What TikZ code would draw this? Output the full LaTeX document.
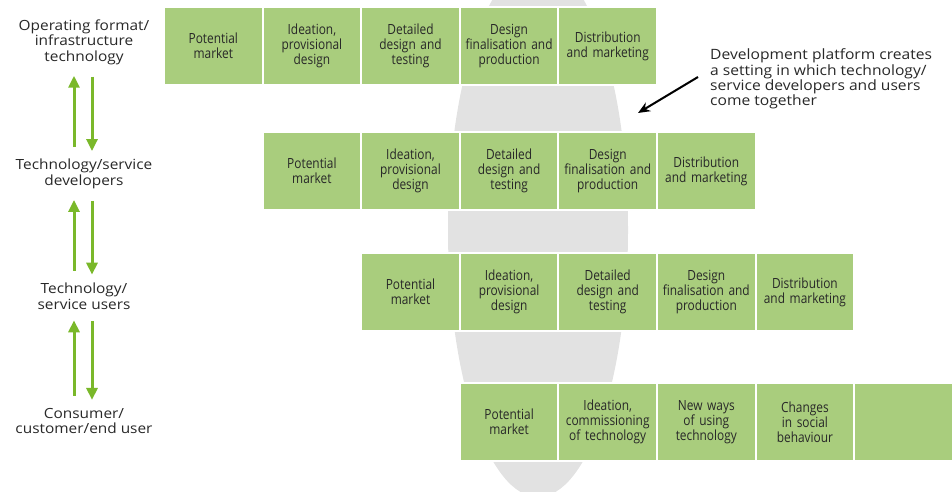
\documentclass[tikz,border=0pt]{standalone}
\usepackage{fontspec}
\setmainfont[FakeStretch=1.1]{Open Sans}
\newfontfamily\narrowfont[FakeStretch=0.85]{Open Sans}
\usetikzlibrary{positioning, arrows.meta}

\definecolor{stagegreen}{RGB}{169,205,125}
\definecolor{arrowgreen}{RGB}{122,184,42}
\definecolor{platformgrey}{RGB}{226,226,226}
\definecolor{textgrey}{RGB}{40,40,40}

\tikzset{
    stage/.style={rectangle, fill=stagegreen, draw=white, line width=2pt, outer sep=0pt,
        minimum width=98.6pt, minimum height=78pt, text width=94pt, inner sep=0pt,
        align=center, text=textgrey, font=\narrowfont\fontsize{14}{15}\selectfont},
    actor/.style={align=center, inner sep=0pt, text=textgrey, font=\fontsize{14}{15.5}\selectfont},
    updown/.style={draw=arrowgreen, line width=3pt, -{Triangle[length=12pt, width=11pt]}}
}

\begin{document}
\begin{tikzpicture}[x=1pt, y=-1pt, node distance=98.6pt, >=Latex]
            \useasboundingbox (0,0) rectangle (952,492);

            % development platform behind the rows
            \begin{scope}
                \clip (0,0) rectangle (952,492);
                \fill[platformgrey] (538,230) ellipse [x radius=90pt, y radius=267pt];
            \end{scope}

            % operating format / infrastructure technology
            \node[stage] (pm1) at (213.3,46) {Potential\\market};
            \node[stage, right of=pm1] (id1) {Ideation,\\provisional\\design};
            \node[stage, right of=id1] (dd1) {Detailed\\design and\\testing};
            \node[stage, right of=dd1] (df1) {Design\\finalisation and\\production};
            \node[stage, right of=df1] (dm1) {Distribution\\and marketing};

            % technology/service developers
            \node[stage] (pm2) at (311.9,171.2) {Potential\\market};
            \node[stage, right of=pm2] (id2) {Ideation,\\provisional\\design};
            \node[stage, right of=id2] (dd2) {Detailed\\design and\\testing};
            \node[stage, right of=dd2] (df2) {Design\\finalisation and\\production};
            \node[stage, right of=df2] (dm2) {Distribution\\and marketing};

            % technology/service users
            \node[stage] (pm3) at (410.5,292) {Potential\\market};
            \node[stage, right of=pm3] (id3) {Ideation,\\provisional\\design};
            \node[stage, right of=id3] (dd3) {Detailed\\design and\\testing};
            \node[stage, right of=dd3] (df3) {Design\\finalisation and\\production};
            \node[stage, right of=df3] (dm3) {Distribution\\and marketing};

            % consumer/customer/end user
            \node[stage] (pm4) at (509.1,421.8) {Potential\\market};
            \node[stage, right of=pm4] (ic4) {Ideation,\\commissioning\\of technology};
            \node[stage, right of=ic4] (nw4) {New ways\\of using\\technology};
            \node[stage, right of=nw4] (cs4) {Changes\\in social\\behaviour};
            \node[stage, right of=cs4] (end4) {};

            % the four groups on the left
            \node[actor] (infra) at (84,42) {Operating format/\\infrastructure\\technology};
            \node[actor] (dev) at (84,174) {Technology/service\\developers};
            \node[actor] (user) at (84,296) {Technology/\\service users};
            \node[actor] (cons) at (84,421) {Consumer/\\customer/end user};

            \draw[updown, shorten <=12pt, shorten >=11pt] ([xshift=-10pt]dev.north) -- ([xshift=-10pt]infra.south);
            \draw[updown, shorten <=12pt, shorten >=8pt] ([xshift=8pt]infra.south) -- ([xshift=8pt]dev.north);
            \draw[updown, shorten <=12pt, shorten >=11pt] ([xshift=-10pt]user.north) -- ([xshift=-10pt]dev.south);
            \draw[updown, shorten <=12pt, shorten >=8pt] ([xshift=8pt]dev.south) -- ([xshift=8pt]user.north);
            \draw[updown, shorten <=12pt, shorten >=11pt] ([xshift=-10pt]cons.north) -- ([xshift=-10pt]user.south);
            \draw[updown, shorten <=12pt, shorten >=8pt] ([xshift=8pt]user.south) -- ([xshift=8pt]cons.north);

            % note pointing at the platform
            \node[anchor=west, align=left, inner sep=0pt, text=textgrey, font=\fontsize{14.2}{15.3}\selectfont]
                (note) at (710,79) {Development platform creates\\a setting in which technology/\\service developers and users\\come together};
            \coordinate (platform) at (638,113);
            \draw[line width=2pt, -{Stealth[length=12pt, width=10pt]}] ([xshift=-12pt, yshift=2pt]note.west) -- (platform);
        \end{tikzpicture}
\end{document}
